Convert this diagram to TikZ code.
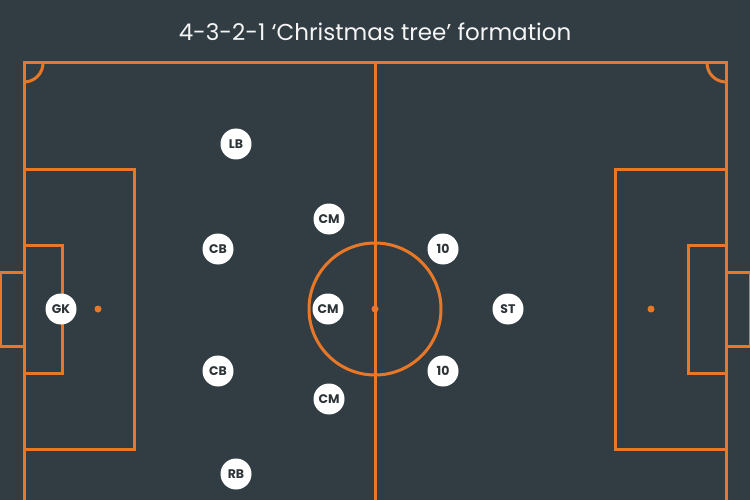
\documentclass[tikz,border=0pt]{standalone}
\usepackage{fontspec}
\setmainfont{Poppins}
\definecolor{bgc}{RGB}{50,61,67}
\definecolor{linec}{RGB}{232,120,40}
\definecolor{txtc}{RGB}{45,52,56}
\begin{document}
\begin{tikzpicture}[x=1pt,y=-1pt,
  pitch/.style={draw=linec,line width=3pt},
  player/.style={circle,fill=white,minimum size=31pt,inner sep=0pt,text=txtc,font=\fontsize{12.5}{12.5}\selectfont\bfseries},
  spot/.style={circle,fill=linec,minimum size=7pt,inner sep=0pt}]
\fill[bgc] (0,0) rectangle (750,500);
\useasboundingbox (0,0) rectangle (750,500);
\begin{scope}
\clip (0,0) rectangle (750,500);
% outline
\draw[pitch] (24,520) -- (24,63) -- (726,63) -- (726,520);
\draw[pitch] (375,63) -- (375,520);
% corner arcs
\draw[pitch] (43,63) arc[start angle=0,end angle=90,radius=19];
\draw[pitch] (707,63) arc[start angle=180,end angle=90,radius=19];
% left boxes
\draw[pitch] (24,170) -- (134,170) -- (134,449) -- (24,449);
\draw[pitch] (24,245) -- (62,245) -- (62,373) -- (24,373);
\draw[pitch] (24,272) -- (0,272) -- (0,346) -- (24,346);
% right boxes
\draw[pitch] (726,170) -- (615,170) -- (615,449) -- (726,449);
\draw[pitch] (726,245) -- (688,245) -- (688,373) -- (726,373);
\draw[pitch] (726,272) -- (750,272) -- (750,346) -- (726,346);
% centre circle
\draw[pitch] (375,309) circle[radius=66];
\end{scope}
\node[spot] (cspot) at (375,309) {};
\node[spot] (lspot) at (98,309) {};
\node[spot] (rspot) at (651,309) {};
% title
\node[text=white!92!gray,font=\fontsize{23}{23}\selectfont] (title) at (375,32) {4-3-2-1 ‘Christmas tree’ formation};
% players
\node[player] (gk) at (61,309) {GK};
\node[player] (lb) at (236,144) {LB};
\node[player] (cb1) at (218,249) {CB};
\node[player] (cb2) at (218,371) {CB};
\node[player] (rb) at (236,474) {RB};
\node[player] (cm1) at (329,219) {CM};
\node[player] (cm2) at (328,309) {CM};
\node[player] (cm3) at (329,399) {CM};
\node[player] (ten1) at (443,249) {10};
\node[player] (ten2) at (443,371) {10};
\node[player] (st) at (508,309) {ST};
\end{tikzpicture}
\end{document}
